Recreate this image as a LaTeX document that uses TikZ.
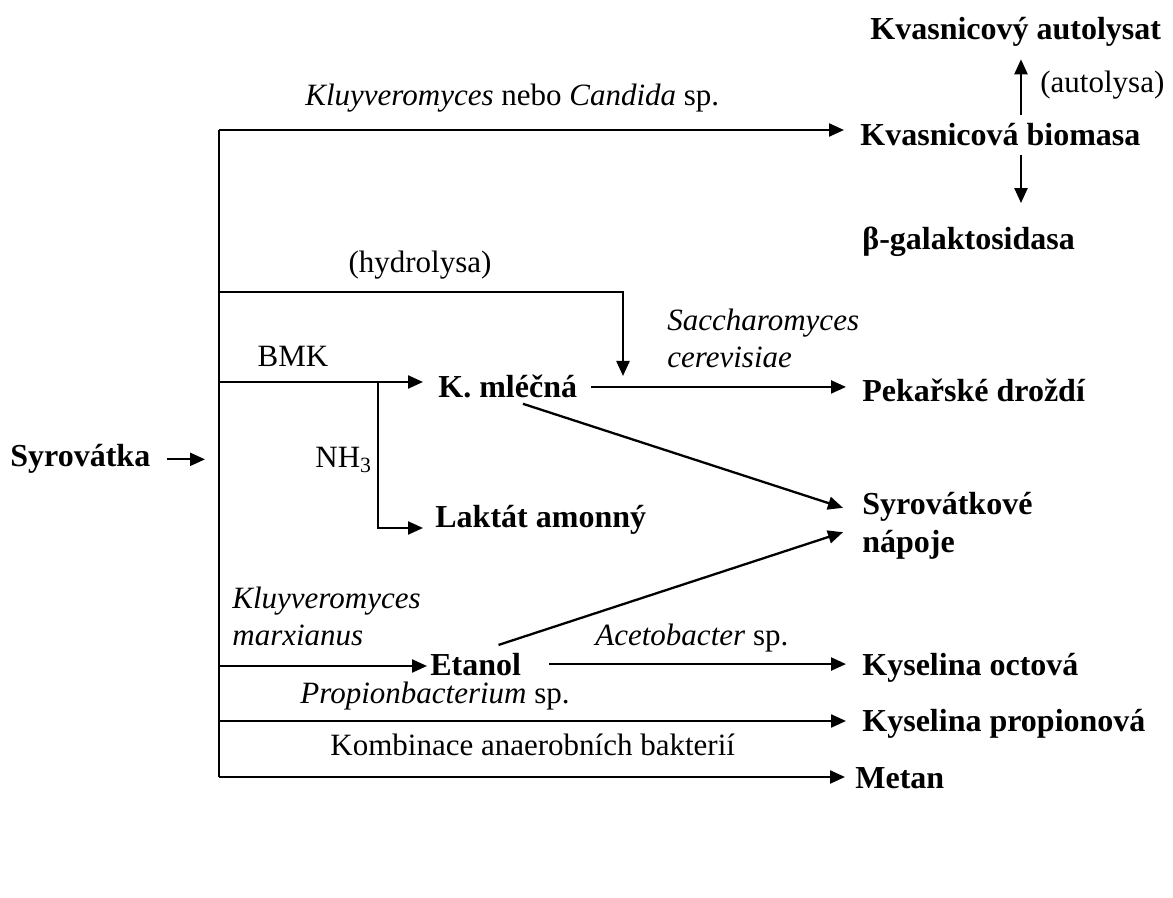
\documentclass[tikz,border=0pt]{standalone}
\usepackage{fontspec}
\setmainfont{Liberation Serif}
\usetikzlibrary{arrows.meta}

\tikzset{
  prod/.style={font=\fontsize{16}{19}\selectfont\bfseries, inner sep=0pt, anchor=base west},
  lab/.style={inner sep=0pt, anchor=base west},
  ln/.style={line width=1.15pt},
  arr/.style={ln, -{Triangle[length=7.5pt,width=6.5pt]}},
}

\begin{document}
\begin{tikzpicture}[x=0.5pt,y=0.5pt,font=\fontsize{15.5}{18.5}\selectfont]
  \useasboundingbox (0,0) rectangle (1173,-898);

  % products
  \node[prod] (syr) at (10,-467) {Syrovátka};
  \node[prod] (autolysat) at (870,-40) {Kvasnicový autolysat};
  \node[prod] (biomasa) at (860,-146) {Kvasnicová biomasa};
  \node[prod] (galakt) at (862,-250) {β-galaktosidasa};
  \node[prod] (mlecna) at (438,-398) {K. mléčná};
  \node[prod] (pekar) at (862,-402) {Pekařské droždí};
  \node[prod] (laktat) at (435,-528) {Laktát amonný};
  \node[prod, anchor=west, align=left] (napoje) at (862,-526) {Syrovátkové\\nápoje};
  \node[prod] (etanol) at (430,-675) {Etanol};
  \node[prod] (octova) at (862,-675) {Kyselina octová};
  \node[prod] (propion) at (862,-731) {Kyselina propionová};
  \node[prod] (metan) at (855,-788) {Metan};

  % labels
  \node[lab] (autolysa) at (1040,-93) {(autolysa)};
  \node[lab] (kc) at (305,-106) {\textit{Kluyveromyces} nebo \textit{Candida} sp.};
  \node[lab, anchor=base] (hydro) at (420,-273) {(hydrolysa)};
  \node[lab, anchor=west, align=left] (sacch) at (667,-338) {\textit{Saccharomyces}\\\textit{cerevisiae}};
  \node[lab, anchor=base] (bmk) at (293,-367) {BMK};
  \node[lab] (nh3) at (315,-468) {NH\textsubscript{3}};
  \node[lab, anchor=west, align=left] (kmarx) at (232,-616) {\textit{Kluyveromyces}\\\textit{marxianus}};
  \node[lab] (aceto) at (595,-645) {\textit{Acetobacter} sp.};
  \node[lab] (propi) at (300,-703) {\textit{Propionbacterium} sp.};
  \node[lab] (komb) at (330,-755) {Kombinace anaerobních bakterií};

  % trunk
  \coordinate (j1) at (219,-130);
  \coordinate (j2) at (219,-292);
  \coordinate (j3) at (219,-382);
  \coordinate (j4) at (219,-666);
  \coordinate (j5) at (219,-721);
  \coordinate (j6) at (219,-777);
  \coordinate (nh) at (378,-382);
  \coordinate (hyd) at (623,-376);
  \coordinate (ax) at (1021,-100);
  \draw[ln] (j1) -- (j6);
  \draw[arr, shorten <=8pt, shorten >=7pt] (syr.east) -- (syr.east -| j1);

  % branches
  \draw[arr, shorten >=8pt] (j1) -- (j1 -| biomasa.west);
  \draw[arr] (j2) -| (hyd);
  \draw[arr, shorten >=7.5pt] (j3) -- (j3 -| mlecna.west);
  \draw[arr, shorten >=6pt] (nh) |- (laktat.base west);
  \draw[arr, shorten >=1.5pt] (j4) -- (j4 -| etanol.west);
  \draw[arr, shorten >=8pt] (j5) -- (j5 -| propion.west);
  \draw[arr, shorten >=5pt] (j6) -- (j6 -| metan.west);

  % from biomass
  \draw[arr, shorten <=4pt, shorten >=6pt] (biomasa.north -| ax) -- (autolysat.south -| ax);
  \draw[arr, shorten <=4pt, shorten >=12pt] (biomasa.south -| ax) -- (galakt.north -| ax);

  % further steps
  \draw[arr, shorten <=7pt, shorten >=8pt] (mlecna.east) -- (mlecna.east -| pekar.west);
  \draw[arr, shorten <=8pt, shorten >=10pt] (mlecna.south) -- ([yshift=6pt]napoje.west);
  \draw[arr, shorten <=12pt, shorten >=10pt] (etanol.north) -- (napoje.west);
  \draw[arr, shorten <=14pt, shorten >=8pt] (etanol.east) -- (etanol.east -| octova.west);
\end{tikzpicture}
\end{document}
